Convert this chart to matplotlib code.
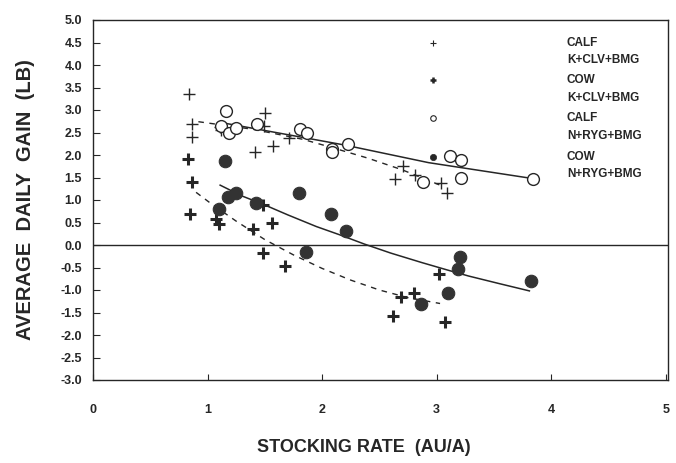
import numpy as np
import matplotlib.pyplot as plt

plt.rcParams['font.family'] = ['Liberation Sans', 'DejaVu Sans']
plt.rcParams['font.weight'] = 'bold'

# CALF K+CLV+BMG (thin plus)
calf_k_x = [0.84, 0.86, 0.86, 1.11, 1.12, 1.50, 1.49, 1.41, 1.57, 1.71, 2.71, 2.64, 2.81, 3.04, 3.09]
calf_k_y = [3.35, 2.69, 2.41, 2.62, 2.55, 2.94, 2.64, 2.06, 2.21, 2.37, 1.76, 1.47, 1.56, 1.37, 1.16]
calf_k_fit_x = [0.92, 1.40, 1.83, 2.08, 2.40, 2.70, 3.03]
calf_k_fit_y = [2.74, 2.57, 2.35, 2.17, 1.93, 1.67, 1.33]

# COW K+CLV+BMG (bold plus)
cow_k_x = [0.83, 0.86, 0.85, 1.07, 1.10, 1.40, 1.48, 1.56, 1.48, 1.68, 2.69, 2.80, 2.62, 3.02, 3.07]
cow_k_y = [1.91, 1.39, 0.69, 0.57, 0.46, 0.35, 0.90, 0.48, -0.17, -0.47, -1.16, -1.07, -1.57, -0.65, -1.72]
cow_k_fit_x = [0.90, 1.02, 1.25, 1.50, 1.75, 2.00, 2.25, 2.50, 2.75, 3.03]
cow_k_fit_y = [1.17, 0.94, 0.53, 0.12, -0.22, -0.52, -0.78, -1.00, -1.17, -1.30]

# CALF N+RYG+BMG (open circle)
calf_n_x = [1.16, 1.12, 1.19, 1.25, 1.43, 1.81, 1.87, 2.09, 2.09, 2.23, 3.12, 3.21, 3.21, 2.88, 3.84]
calf_n_y = [2.98, 2.64, 2.50, 2.60, 2.68, 2.58, 2.50, 2.13, 2.07, 2.24, 1.98, 1.89, 1.48, 1.41, 1.47]
calf_n_fit_x = [1.10, 2.20, 2.93, 3.83]
calf_n_fit_y = [2.73, 2.22, 1.83, 1.48]

# COW N+RYG+BMG (filled circle)
cow_n_x = [1.15, 1.80, 1.18, 1.25, 1.10, 1.42, 2.08, 2.21, 1.86, 2.86, 3.20, 3.19, 3.10, 3.82]
cow_n_y = [1.87, 1.16, 1.06, 1.15, 0.79, 0.93, 0.70, 0.31, -0.16, -1.31, -0.26, -0.54, -1.06, -0.81]
cow_n_fit_x = [1.11, 1.30, 1.49, 1.70, 1.95, 2.15, 2.37, 2.60, 2.87, 3.10, 3.28, 3.55, 3.81]
cow_n_fit_y = [1.33, 1.09, 0.90, 0.67, 0.41, 0.23, 0.02, -0.18, -0.39, -0.56, -0.69, -0.86, -1.02]

legend_top = ['CALF', 'COW', 'CALF', 'COW']
legend_bottom = ['K+CLV+BMG', 'K+CLV+BMG', 'N+RYG+BMG', 'N+RYG+BMG']

ink = '#262626'

fig = plt.figure(figsize=(6.76, 4.63), dpi=100)
ax = fig.add_axes([93 / 676, 1 - 380 / 463, 575 / 676, 360 / 463])

ax.axhline(0, color=ink, lw=1.0)

# fitted curves
ax.plot(calf_k_fit_x, calf_k_fit_y, color=ink, lw=1.0, ls=(0, (4, 4)))
ax.plot(cow_k_fit_x, cow_k_fit_y, color=ink, lw=1.0, ls=(0, (4, 4)))
ax.plot(calf_n_fit_x, calf_n_fit_y, color=ink, lw=1.1)
ax.plot(cow_n_fit_x, cow_n_fit_y, color=ink, lw=1.1)

# points
ax.plot(calf_k_x, calf_k_y, ls='none', marker='+', ms=8, mew=1.0, color=ink)
ax.plot(cow_k_x, cow_k_y, ls='none', marker='+', ms=8, mew=2.2, color=ink)
ax.plot(calf_n_x, calf_n_y, ls='none', marker='o', ms=8.5, mew=1.0, mfc='white', mec=ink)
ax.plot(cow_n_x, cow_n_y, ls='none', marker='o', ms=9, mew=0.8, color='#333333')

ax.set_xlim(0.037, 5.02)
ax.set_ylim(-3.0, 5.0)
ax.set_xticks(np.arange(0, 6, 1))
ax.set_yticks(np.arange(-3.0, 5.01, 0.5))
ax.set_yticklabels([f'{v:.1f}' for v in np.arange(-3.0, 5.01, 0.5)])
ax.tick_params(axis='x', direction='in', length=4, width=0.8, pad=17, labelsize=9, colors=ink)
ax.tick_params(axis='y', direction='in', length=5, width=0.8, pad=8, labelsize=9, colors=ink)
for lbl in ax.get_xticklabels() + ax.get_yticklabels():
    lbl.set_fontweight('bold')
for sp in ax.spines.values():
    sp.set_color(ink)
    sp.set_linewidth(1.0)

ax.set_xlabel('STOCKING RATE  (AU/A)', fontsize=13, fontweight='bold', color=ink)
ax.xaxis.set_label_coords(0.471, -0.165)
ax.set_ylabel('AVERAGE  DAILY  GAIN  (LB)', fontsize=14.5, fontweight='bold', color=ink, labelpad=18)

# legend drawn by hand, marker beside first line of each entry
styles = [dict(marker='+', ms=5, mew=0.8, color=ink),
          dict(marker='+', ms=5, mew=1.8, color=ink),
          dict(marker='o', ms=4, mew=0.8, mfc='white', mec=ink),
          dict(marker='o', ms=4.5, mew=0.5, color=ink)]
row_top = [0.937, 0.832, 0.727, 0.620]
for top, bottom, st, yy in zip(legend_top, legend_bottom, styles, row_top):
    ax.plot([0.591], [yy], transform=ax.transAxes, ls='none', clip_on=False, **st)
    ax.text(0.824, yy, top, transform=ax.transAxes, fontsize=8.5, fontweight='bold', color=ink, va='center')
    ax.text(0.824, yy - 0.049, bottom, transform=ax.transAxes, fontsize=8.5, fontweight='bold', color=ink, va='center')

fig.savefig('out.png', dpi=100)
